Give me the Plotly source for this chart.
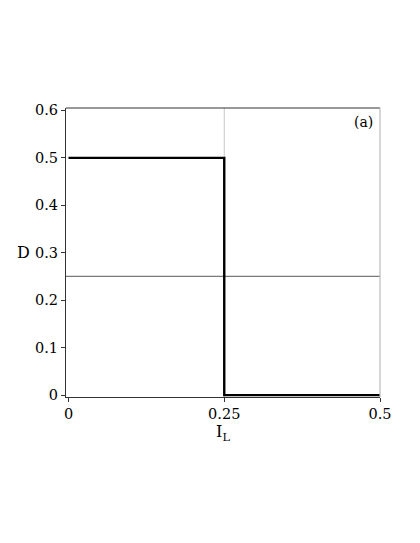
import plotly.graph_objects as go

# step data: D as a function of I_L
i_l = [0, 0.25, 0.5]
d = [0.5, 0, 0]

x_ticks = [0, 0.25, 0.5]
x_labels = ["0", "0.25", "0.5"]
y_ticks = [0, 0.1, 0.2, 0.3, 0.4, 0.5, 0.6]
y_labels = ["0", "0.1", "0.2", "0.3", "0.4", "0.5", "0.6"]

ref_x = 0.25
ref_y = 0.25

font = dict(family="DejaVu Serif", size=14.5, color="black")

fig = go.Figure()

fig.add_trace(go.Scatter(
    x=i_l,
    y=d,
    mode="lines",
    line=dict(color="black", width=2.4, shape="hv"),
    showlegend=False,
))

# reference lines
fig.add_shape(type="line", xref="x", yref="paper", x0=ref_x, x1=ref_x, y0=0, y1=1,
              line=dict(color="#c8c8c8", width=1), layer="below")
fig.add_shape(type="line", xref="paper", yref="y", x0=0, x1=1, y0=ref_y, y1=ref_y,
              line=dict(color="#7a7a7a", width=1.2), layer="below")

# frame top and right
fig.add_shape(type="line", xref="paper", yref="paper", x0=0, x1=1, y0=1, y1=1,
              line=dict(color="#333333", width=1))
fig.add_shape(type="line", xref="paper", yref="paper", x0=1, x1=1, y0=0, y1=1,
              line=dict(color="#bbbbbb", width=1.2))

fig.add_annotation(text="(a)", xref="paper", yref="paper", x=0.985, y=0.985,
                   xanchor="right", yanchor="top", showarrow=False,
                   font=dict(family="DejaVu Serif", size=14, color="black"))
fig.add_annotation(text="D", xref="paper", yref="y", x=0, y=0.3,
                   xanchor="right", yanchor="middle", xshift=-34, showarrow=False,
                   font=dict(family="DejaVu Serif", size=16, color="black"))

fig.update_xaxes(
    range=[-0.004, 0.5],
    tickvals=x_ticks, ticktext=x_labels,
    showline=True, linecolor="#333333", linewidth=1,
    ticks="outside", ticklen=4, tickcolor="#333333",
    showgrid=False, zeroline=False, automargin=False,
    title=dict(text="I<sub>L</sub>", font=dict(family="DejaVu Serif", size=16, color="black"), standoff=0),
)
fig.update_yaxes(
    range=[-0.004, 0.605],
    tickvals=y_ticks, ticktext=y_labels,
    showline=True, linecolor="#333333", linewidth=1,
    ticks="outside", ticklen=4, tickcolor="#333333",
    showgrid=False, zeroline=False, automargin=False,
)

fig.update_layout(
    width=412,
    height=535,
    margin=dict(l=58, r=40, t=100, b=146),
    plot_bgcolor="white",
    paper_bgcolor="white",
    font=font,
)

fig.write_html("out.html")
